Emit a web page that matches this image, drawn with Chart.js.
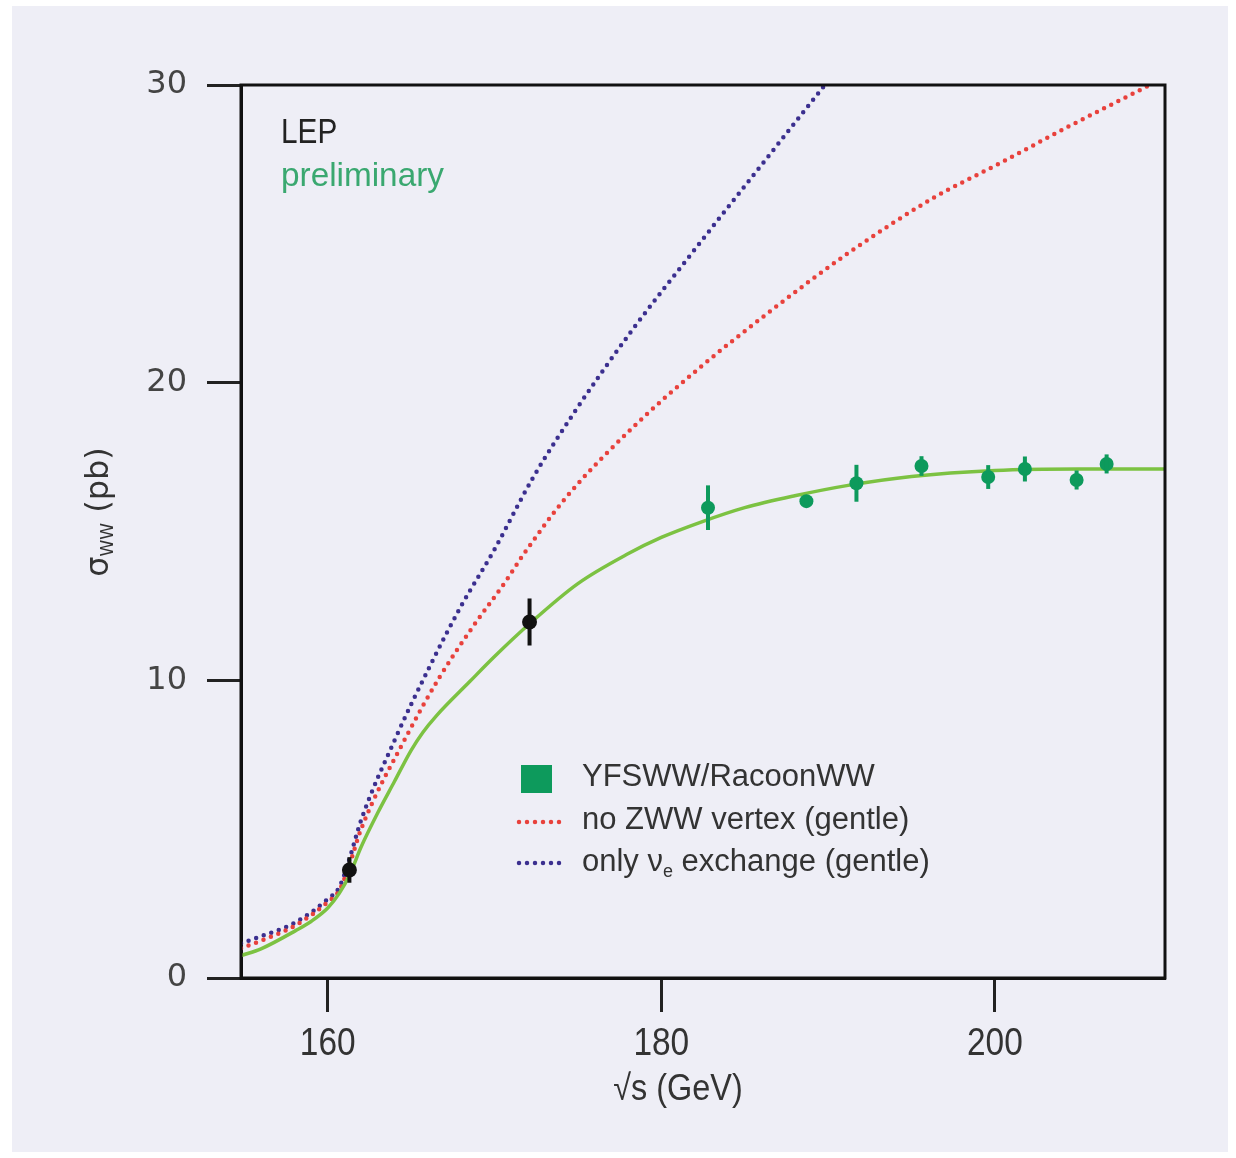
<!DOCTYPE html>
<html lang="en">
<head>
  <meta charset="UTF-8" />
  <title>WW cross-section at LEP</title>
  <style>
    body { margin: 0; background: #ffffff; }
    #wrap { position: absolute; left: 0; top: 0; width: 1236px; height: 1158px; }
  </style>
</head>
<body>
  <div id="wrap"><canvas id="chart"></canvas></div>

  <script src="https://cdn.jsdelivr.net/npm/chart.js"></script>
  <script>
    // axis ticks
    const xTicks = [160, 180, 200];
    const yTicks = [0, 10, 20, 30];

    // YFSWW/RacoonWW prediction (solid green)
    const sm_x = [154.8, 156, 158.1, 159, 160, 160.7, 161.3, 162, 163, 164, 165, 165.7, 166.5, 168.5, 170, 172.1, 175, 178, 180, 182.3, 185, 188, 191.2, 195, 200, 205, 210.2];
    const sm_y = [0.75, 0.98, 1.6, 1.9, 2.35, 2.85, 3.45, 4.4, 5.55, 6.6, 7.65, 8.25, 8.8, 9.95, 10.8, 11.9, 13.25, 14.25, 14.8, 15.3, 15.8, 16.2, 16.55, 16.85, 17.05, 17.1, 17.1];

    // no ZWW vertex (red dotted)
    const noZ_x = [154.8, 156, 158.1, 160, 160.7, 161.3, 162, 164.7, 166.7, 168.7, 170.7, 171.7, 174.3, 178.3, 182.3, 186.3, 191.2, 196.3, 200.4, 204.4, 209.3];
    const noZ_y = [1.0, 1.25, 1.78, 2.55, 2.95, 3.8, 5.0, 8.1, 10.1, 11.8, 13.35, 14.2, 16.15, 18.5, 20.5, 22.3, 24.35, 26.2, 27.4, 28.6, 30.0];

    // only nu_e exchange (blue dotted)
    const nue_x = [154.8, 156, 158.1, 160, 160.7, 161.3, 162, 164.1, 166.1, 168, 169.9, 172.3, 174.9, 178.3, 181.9, 185, 189.8];
    const nue_y = [1.17, 1.4, 1.88, 2.65, 3.06, 4.0, 5.3, 8.1, 10.45, 12.5, 14.3, 16.8, 19.1, 21.8, 24.4, 26.6, 30.0];

    // measurements: early (black) and later (green) energies
    const blackX = [161.3, 172.1];
    const blackY = [3.63, 11.96];
    const blackErr = [0.43, 0.79];
    const greenX = [182.8, 188.7, 191.7, 195.6, 199.6, 201.8, 204.9, 206.7];
    const greenY = [15.8, 16.02, 16.62, 17.2, 16.83, 17.1, 16.73, 17.27];
    const greenErr = [0.75, 0.15, 0.62, 0.33, 0.4, 0.42, 0.32, 0.32];

    const zip = (xs, ys) => xs.map((x, i) => ({ x, y: ys[i] }));

    // condensed-looking text: Liberation Sans squeezed horizontally
    const narrowText = (ctx, text, x, y, size, sx, align) => {
      ctx.save();
      ctx.font = size + 'px "Liberation Sans", Arial, sans-serif';
      ctx.textBaseline = 'middle';
      const w = ctx.measureText(text).width * sx;
      let left = x;
      if (align === 'center') left = x - w / 2;
      ctx.translate(left, y);
      ctx.scale(sx, 1);
      ctx.textAlign = 'left';
      ctx.fillText(text, 0, 0);
      ctx.restore();
    };

    const bgPlugin = {
      id: 'bg',
      beforeDraw(chart) {
        const ctx = chart.ctx;
        ctx.save();
        ctx.fillStyle = '#ffffff';
        ctx.fillRect(0, 0, chart.width, chart.height);
        ctx.fillStyle = '#eeeef6';
        ctx.fillRect(12, 6, 1216, 1146);
        ctx.restore();
      }
    };

    const errPlugin = {
      id: 'errbars',
      afterDatasetsDraw(chart) {
        const ctx = chart.ctx;
        const ys = chart.scales.y;
        const sets = [[3, blackY, blackErr, '#111111'], [4, greenY, greenErr, '#0d9a5c']];
        ctx.save();
        ctx.lineWidth = 4;
        sets.forEach(([idx, vals, errs, col]) => {
          const meta = chart.getDatasetMeta(idx);
          ctx.strokeStyle = col;
          meta.data.forEach((pt, j) => {
            ctx.beginPath();
            ctx.moveTo(pt.x, ys.getPixelForValue(vals[j] - errs[j]));
            ctx.lineTo(pt.x, ys.getPixelForValue(vals[j] + errs[j]));
            ctx.stroke();
          });
        });
        ctx.restore();
      }
    };

    const decorPlugin = {
      id: 'decor',
      afterDraw(chart) {
        const ctx = chart.ctx;
        const a = chart.chartArea;
        ctx.save();
        // frame
        ctx.strokeStyle = '#111111';
        ctx.lineWidth = 3;
        ctx.strokeRect(a.left, a.top, a.right - a.left, a.bottom - a.top);

        // x tick labels, placed from the x scale
        const xs = chart.scales.x;
        ctx.fillStyle = '#333333';
        xs.ticks.forEach(t => {
          narrowText(ctx, String(t.value), xs.getPixelForValue(t.value), 1045, 38, 0.88, 'center');
        });

        // LEP / preliminary
        ctx.fillStyle = '#222222';
        narrowText(ctx, 'LEP', 281, 133, 35, 0.85, 'left');
        ctx.fillStyle = '#3aa870';
        narrowText(ctx, 'preliminary', 281, 177, 34, 0.98, 'left');

        // legend
        ctx.fillStyle = '#0d9a5c';
        ctx.fillRect(521, 765, 31, 28);
        ctx.lineCap = 'round';
        ctx.lineWidth = 4.5;
        ctx.setLineDash([0, 8]);
        ctx.strokeStyle = '#e8413c';
        ctx.beginPath(); ctx.moveTo(519, 822); ctx.lineTo(565, 822); ctx.stroke();
        ctx.strokeStyle = '#3b2f8f';
        ctx.beginPath(); ctx.moveTo(519, 863); ctx.lineTo(565, 863); ctx.stroke();
        ctx.setLineDash([]);

        ctx.fillStyle = '#333333';
        ctx.textBaseline = 'middle';
        ctx.textAlign = 'left';
        ctx.font = '31px "Liberation Sans"';
        ctx.fillText('YFSWW/RacoonWW', 582, 777);
        ctx.fillText('no ZWW vertex (gentle)', 582, 820);
        let x = 582;
        ctx.fillText('only \u03bd', x, 862);
        x += ctx.measureText('only \u03bd').width;
        ctx.font = '18px "Liberation Sans"';
        ctx.fillText('e', x, 872);
        x += ctx.measureText('e').width;
        ctx.font = '31px "Liberation Sans"';
        ctx.fillText(' exchange (gentle)', x, 862);

        // x title
        ctx.fillStyle = '#333333';
        narrowText(ctx, '\u221as (GeV)', 678, 1090, 36, 0.9, 'center');

        // y title, rotated
        ctx.translate(100, 512);
        ctx.rotate(-Math.PI / 2);
        ctx.textAlign = 'left';
        ctx.font = '32px "DejaVu Sans"';
        const s1 = '\u03c3', s3 = ' (pb)';
        const w1 = ctx.measureText(s1).width;
        const w3 = ctx.measureText(s3).width;
        ctx.font = '17px "DejaVu Sans"';
        const w2 = ctx.measureText('WW').width;
        let tx = -(w1 + w2 + w3) / 2;
        ctx.font = '32px "DejaVu Sans"';
        ctx.fillText(s1, tx, 0);
        tx += w1;
        ctx.font = '17px "DejaVu Sans"';
        ctx.fillText('WW', tx, 9);
        tx += w2;
        ctx.font = '32px "DejaVu Sans"';
        ctx.fillText(s3, tx, 0);
        ctx.restore();
      }
    };

    const canvas = document.getElementById('chart');
    canvas.width = 1236;
    canvas.height = 1158;

    new Chart(canvas.getContext('2d'), {
      data: {
        datasets: [
          {
            type: 'line', data: zip(sm_x, sm_y), borderColor: '#7cc242', borderWidth: 3.5,
            pointRadius: 0, cubicInterpolationMode: 'monotone', order: 3
          },
          {
            type: 'line', data: zip(noZ_x, noZ_y), borderColor: '#e8413c', borderWidth: 4.5,
            borderDash: [0, 8], borderCapStyle: 'round', pointRadius: 0,
            cubicInterpolationMode: 'monotone', order: 4
          },
          {
            type: 'line', data: zip(nue_x, nue_y), borderColor: '#3b2f8f', borderWidth: 4.5,
            borderDash: [0, 8], borderCapStyle: 'round', pointRadius: 0,
            cubicInterpolationMode: 'monotone', order: 5
          },
          {
            type: 'scatter', data: zip(blackX, blackY), backgroundColor: '#111111',
            borderWidth: 0, pointRadius: 7.5, order: 1
          },
          {
            type: 'scatter', data: zip(greenX, greenY), backgroundColor: '#0d9a5c',
            borderWidth: 0, pointRadius: 7, order: 2
          }
        ]
      },
      options: {
        responsive: false,
        animation: false,
        events: [],
        layout: { padding: { left: 0, right: 71, top: 85, bottom: 0 } },
        plugins: { legend: { display: false }, tooltip: { enabled: false } },
        scales: {
          x: {
            type: 'linear', min: 154.8, max: 210.2,
            afterBuildTicks: s => { s.ticks = xTicks.map(v => ({ value: v })); },
            afterFit: s => { s.height = 180; },
            ticks: { display: false },
            grid: { drawOnChartArea: false, drawTicks: true, tickLength: 34, tickWidth: 3, tickColor: '#222222' },
            border: { display: true, width: 3, color: '#111111' }
          },
          y: {
            type: 'linear', min: 0, max: 30,
            afterBuildTicks: s => { s.ticks = yTicks.map(v => ({ value: v })); },
            afterFit: s => { s.width = 241; },
            ticks: { color: '#444444', font: { family: 'DejaVu Sans', size: 32 }, padding: 20 },
            grid: { drawOnChartArea: false, drawTicks: true, tickLength: 34, tickWidth: 3, tickColor: '#222222' },
            border: { display: true, width: 3, color: '#111111' }
          }
        }
      },
      plugins: [bgPlugin, errPlugin, decorPlugin]
    });
  </script>
</body>
</html>
